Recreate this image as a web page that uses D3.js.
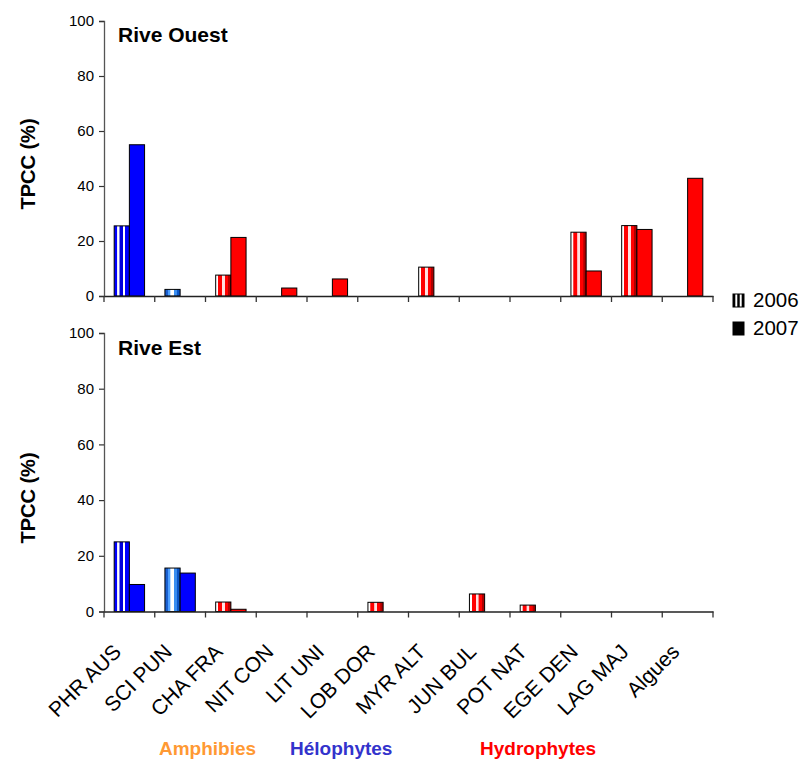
<!DOCTYPE html>
<html>
<head>
<meta charset="utf-8">
<script src="https://cdn.jsdelivr.net/npm/d3@7"></script>
<style>
  html, body { margin: 0; padding: 0; background: #fff; }
  svg { display: block; font-family: "Liberation Sans", Arial, sans-serif; }
</style>
</head>
<body>
<svg id="chart" width="805" height="760"></svg>
<script>
const categories = ["PHR AUS","SCI PUN","CHA FRA","NIT CON","LIT UNI","LOB DOR","MYR ALT","JUN BUL","POT NAT","EGE DEN","LAG MAJ","Algues"];
const years = ["2006","2007"];
const ouest2006 = [25.5, 2.4, 7.6, 0, 0, 0, 10.5, 0, 0, 23.2, 25.6, 0];
const ouest2007 = [55.0, 0, 21.3, 2.9, 6.2, 0, 0, 0, 0, 9.1, 24.2, 42.8];
const est2006   = [25.0, 15.6, 3.4, 0, 0, 3.3, 0, 6.3, 2.3, 0, 0, 0];
const est2007   = [9.7, 13.8, 0.8, 0, 0, 0, 0, 0, 0, 0, 0, 0];
const yTicks = [0, 20, 40, 60, 80, 100];
const groups = [
  {label: "Amphibies", x: 159, color: "#ff9933"},
  {label: "Hélophytes", x: 290, color: "#3333cc"},
  {label: "Hydrophytes", x: 480, color: "#ff0000"}
];
// colour family per category (style, not data)
const catColor = ["blue","lightblue","red","red","red","red","red","red","red","red","red","red"];
const catColor2007 = ["#0000ff","#0000ff","#ff0000","#ff0000","#ff0000","#ff0000","#ff0000","#ff0000","#ff0000","#ff0000","#ff0000","#ff0000"];

const svg = d3.select("#chart");
const defs = svg.append("defs");

function stripeGrad(id, stops) {
  const g = defs.append("linearGradient").attr("id", id)
    .attr("x1", "0%").attr("x2", "100%").attr("y1", "0%").attr("y2", "0%");
  stops.forEach(s => g.append("stop").attr("offset", s[0]).attr("stop-color", s[1]));
}
function hardStops(bands) {
  const out = [];
  bands.forEach(b => { out.push([b[0] + "%", b[2]]); out.push([b[1] + "%", b[2]]); });
  return out;
}
stripeGrad("g-blue", hardStops([[0,20,"#0000ff"],[22,34,"#ffffff"],[36,58,"#0000dd"],[60,72,"#ffffff"],[74,100,"#0000ff"]]));
stripeGrad("g-lightblue", hardStops([[0,18,"#1a5fd0"],[22,34,"#4da0ff"],[38,58,"#ffffff"],[62,76,"#3a8ef0"],[80,100,"#0a55c8"]]));
stripeGrad("g-red", hardStops([[0,14,"#ffffff"],[18,40,"#ff0000"],[44,58,"#ffe0e0"],[62,80,"#ff0000"],[84,100,"#b00000"]]));
stripeGrad("g-black", hardStops([[0,20,"#000000"],[24,38,"#ffffff"],[42,58,"#000000"],[62,76,"#ffffff"],[80,100,"#000000"]]));

const x0 = 104, x1 = 713;
const x = d3.scaleBand().domain(categories).range([x0, x1]).paddingInner(0).paddingOuter(0);
const xYear = d3.scaleBand().domain(years).range([0, x.bandwidth()]).paddingInner(0).paddingOuter(0.67);

const panels = [
  {title: "Rive Ouest", top: 21, bottom: 296, v2006: ouest2006, v2007: ouest2007, labelY: 164, titleY: 42, xLabels: false},
  {title: "Rive Est", top: 333, bottom: 611.5, v2006: est2006, v2007: est2007, labelY: 498, titleY: 355, xLabels: true}
];

panels.forEach(p => {
  const y = d3.scaleLinear().domain([0, 100]).range([p.bottom, p.top]);
  const g = svg.append("g");

  const rows = categories.map((c, i) => ({cat: c, i: i, v: [p.v2006[i], p.v2007[i]]}));
  rows.forEach(r => {
    years.forEach((yr, k) => {
      const v = r.v[k];
      if (!(v > 0)) return;
      g.append("rect")
        .attr("x", x(r.cat) + xYear(yr))
        .attr("y", y(v))
        .attr("width", xYear.bandwidth())
        .attr("height", y(0) - y(v))
        .attr("fill", k === 0 ? "url(#g-" + catColor[r.i] + ")" : catColor2007[r.i])
        .attr("stroke", "#000")
        .attr("stroke-width", 1);
    });
  });

  const yAxis = d3.axisLeft(y).tickValues(yTicks).tickSize(5).tickPadding(5).tickFormat(d3.format("d"));
  const ya = g.append("g").attr("transform", `translate(${x0},0)`).call(yAxis);
  ya.select(".domain").attr("stroke", "#555").attr("stroke-width", 1.3);
  ya.selectAll(".tick line").attr("stroke", "#333").attr("stroke-width", 1.2);
  ya.selectAll(".tick text").attr("font-size", 15).attr("fill", "#000")
    .attr("font-family", "Liberation Sans, Arial, sans-serif");

  const xAxis = d3.axisBottom(x).tickSize(0).tickFormat("");
  const xa = g.append("g").attr("transform", `translate(0,${p.bottom})`).call(xAxis);
  xa.select(".domain").attr("stroke", "#222").attr("stroke-width", 1.6);
  xa.selectAll(".tick").remove();
  const bounds = categories.map(c => x(c)).concat([x1]);
  xa.selectAll("line.sep").data(bounds).join("line").attr("class", "sep")
    .attr("x1", d => d).attr("x2", d => d).attr("y1", 0).attr("y2", 6)
    .attr("stroke", "#333").attr("stroke-width", 1.3);

  g.append("text").attr("x", 118).attr("y", p.titleY)
    .attr("font-size", 21).attr("font-weight", "bold").attr("fill", "#000").text(p.title);

  g.append("text").attr("transform", `translate(35,${p.labelY}) rotate(-90)`)
    .attr("text-anchor", "middle").attr("font-size", 20).attr("font-weight", "bold")
    .attr("fill", "#000").text("TPCC (%)");

  if (p.xLabels) {
    g.selectAll("text.xl").data(categories).join("text").attr("class", "xl")
      .attr("transform", d => `translate(${x(d) + x.bandwidth() / 2 - 7},653) rotate(-45)`)
      .attr("text-anchor", "end").attr("font-size", 21).attr("fill", "#000").text(d => d);
  }
});

const legend = svg.append("g");
years.forEach((yr, k) => {
  const ly = 294 + k * 28;
  legend.append("rect").attr("x", 733).attr("y", ly).attr("width", 11).attr("height", 13)
    .attr("fill", k === 0 ? "url(#g-black)" : "#000").attr("stroke", "#000").attr("stroke-width", 1);
  legend.append("text").attr("x", 753).attr("y", ly + 13).attr("font-size", 20.5).attr("fill", "#000").text(yr);
});

svg.selectAll("text.grp").data(groups).join("text").attr("class", "grp")
  .attr("x", d => d.x).attr("y", 755).attr("font-size", 19).attr("font-weight", "bold")
  .attr("fill", d => d.color).text(d => d.label);
</script>
</body>
</html>
